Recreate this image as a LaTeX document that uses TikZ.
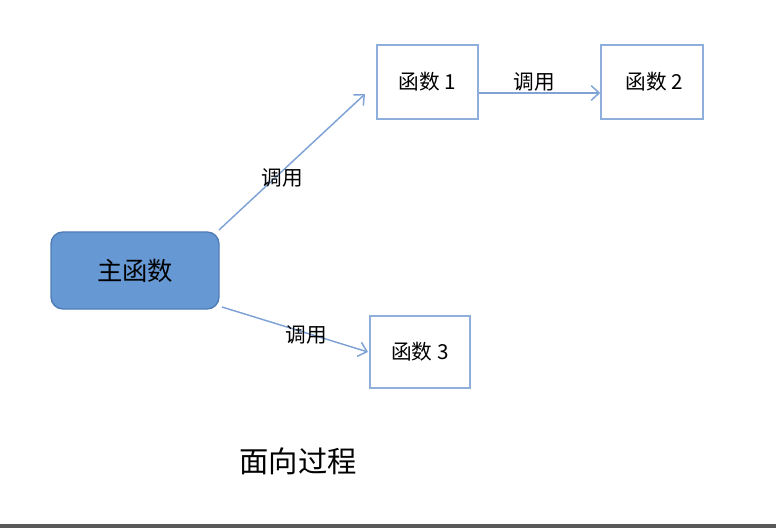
\documentclass[tikz,border=0pt]{standalone}
\usepackage{fontspec}
\setmainfont{Noto Sans CJK SC}
\usetikzlibrary{arrows.meta}
\definecolor{mainfill}{HTML}{6699D4}
\definecolor{mainedge}{HTML}{4F7DB8}
\definecolor{boxedge}{HTML}{8FAEDB}
\definecolor{arrowc}{HTML}{7FA3D6}
\begin{document}
\begin{tikzpicture}[x=0.75pt,y=-0.75pt,
  fbox/.style={draw=boxedge,line width=1.1pt,fill=white,inner sep=0pt,font=\fontsize{15.5}{17}\selectfont},
  mainbox/.style={draw=mainedge,line width=1.1pt,fill=mainfill,rounded corners=9pt,inner sep=0pt,font=\fontsize{19}{21}\selectfont},
  callarrow/.style={draw=arrowc,line width=1.1pt,-{Straight Barb[length=6pt,width=11pt,line width=1.1pt]}},
  lbl/.style={font=\fontsize{15.5}{17}\selectfont,inner sep=0pt}]
\useasboundingbox (0,0) rectangle (776,528);
\fill[white] (0,0) rectangle (776,528);
\fill[black!65] (0,524) rectangle (776,528);
\node[mainbox,minimum width=126pt,minimum height=57.75pt] (main) at (135,270.5) {主函数\hspace{6pt}};
\node[fbox,minimum width=75.75pt,minimum height=55.5pt] (f1) at (427.5,82) {函数 1};
\node[fbox,minimum width=76.5pt,minimum height=55.5pt] (f2) at (652,82) {\hspace{4pt}函数 2};
\node[fbox,minimum width=75pt,minimum height=54pt] (f3) at (420,352) {函数 3};
\coordinate (a1s) at (219,230);
\coordinate (a1e) at (365,94);
\coordinate (a3s) at (222,307);
\coordinate (a3e) at (368,352);
\draw[callarrow] (a1s) -- (a1e);
\draw[callarrow] (f1.east |- 0,93) -- (f2.west |- 0,93);
\draw[callarrow] (a3s) -- (a3e);
\node[lbl] (l1) at (282,178) {调用};
\node[lbl] (l2) at (534,82) {调用};
\node[lbl] (l3) at (306,335) {调用};
\node[font=\fontsize{22}{25}\selectfont,inner sep=0pt] (title) at (298,461) {面向过程};
\end{tikzpicture}
\end{document}
